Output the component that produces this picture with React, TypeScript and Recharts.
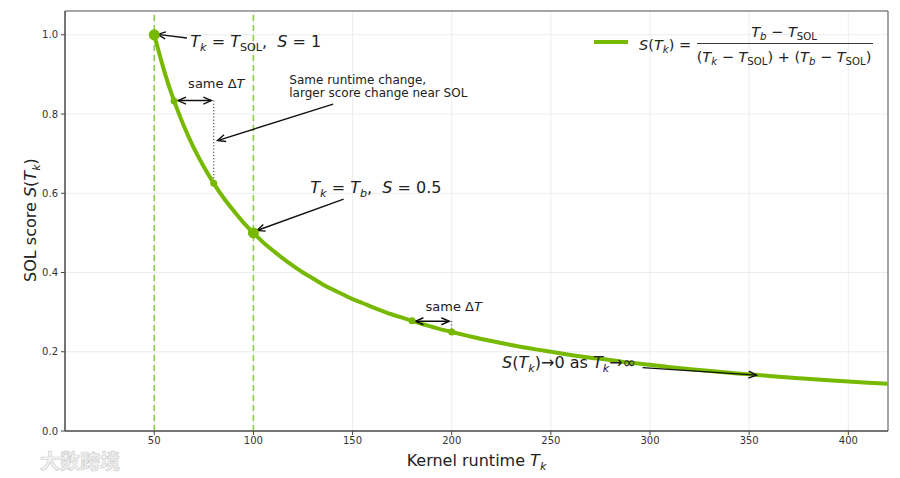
import React from 'react';
import {
  ComposedChart,
  Line,
  XAxis,
  YAxis,
  CartesianGrid,
  ReferenceLine,
  ReferenceDot,
  ReferenceArea,
  Legend,
} from 'recharts';

// runtimes T_k and SOL scores S(T_k)
const runtimes = [50, 55, 60, 65, 70, 75, 80, 85, 90, 95, 100, 105, 110, 115, 120, 125, 130, 135, 140, 145, 150, 155, 160, 165, 170, 175, 180, 185, 190, 195, 200, 210, 220, 230, 240, 250, 260, 270, 280, 290, 300, 310, 325, 340, 350, 360, 375, 390, 400, 410, 420];
const scores = [1.0, 0.909, 0.833, 0.769, 0.714, 0.667, 0.625, 0.588, 0.556, 0.526, 0.5, 0.476, 0.455, 0.435, 0.417, 0.4, 0.385, 0.37, 0.357, 0.345, 0.333, 0.323, 0.3125, 0.303, 0.294, 0.286, 0.278, 0.27, 0.263, 0.256, 0.25, 0.238, 0.227, 0.217, 0.208, 0.2, 0.192, 0.185, 0.179, 0.172, 0.167, 0.161, 0.154, 0.147, 0.143, 0.139, 0.133, 0.128, 0.125, 0.122, 0.119];

const xTicks = [50, 100, 150, 200, 250, 300, 350, 400];
const yTicks = [0, 0.2, 0.4, 0.6, 0.8, 1.0];

// T_SOL and T_b
const guideRuntimes = [50, 100];

const bigPointT = [50, 100];
const bigPointS = [1.0, 0.5];
const smallPointT = [60, 80, 180, 200];
const smallPointS = [0.833, 0.625, 0.278, 0.25];

const data = runtimes.map((t, i) => ({ t, s: scores[i] }));

const GREEN = '#76b900';
const FONT = '"DejaVu Sans", sans-serif';

type Piece = [string, number]; // flag 1 = italic, 2 = subscript

const MathText = ({ x, y, size, pieces, anchor = 'start', transform }: any) => {
  let shift = 0;
  return (
    <text
      x={x}
      y={y}
      fontSize={size}
      fontFamily={FONT}
      fill="#222"
      textAnchor={anchor}
      transform={transform}
      style={{ whiteSpace: 'pre' }}
    >
      {pieces.map(([s, f]: Piece, i: number) => {
        const target = f & 2 ? size * 0.24 : 0;
        const dy = target - shift;
        shift = target;
        return (
          <tspan
            key={i}
            dy={dy !== 0 ? dy : undefined}
            fontStyle={f & 1 ? 'italic' : 'normal'}
            fontSize={f & 2 ? size * 0.7 : size}
          >
            {s}
          </tspan>
        );
      })}
    </text>
  );
};

const arrowShape = (both: boolean, dotted = false) => (props: any) => {
  const { x1, y1, x2, y2 } = props;
  const a = Math.atan2(y2 - y1, x2 - x1);
  const hl = 8;
  const hw = 3.5;
  const head = (x: number, y: number, ang: number) => {
    const bx = x - hl * Math.cos(ang);
    const by = y - hl * Math.sin(ang);
    const px = -Math.sin(ang) * hw;
    const py = Math.cos(ang) * hw;
    return `M${bx + px},${by + py}L${x},${y}L${bx - px},${by - py}`;
  };
  if (dotted) {
    return <line x1={x1} y1={y1} x2={x2} y2={y2} stroke="#222" strokeWidth={1.1} strokeDasharray="1 2.2" />;
  }
  return (
    <g stroke="#111" strokeWidth={1.4} fill="none">
      <line x1={x1} y1={y1} x2={x2} y2={y2} />
      <path d={head(x2, y2, a)} />
      {both && <path d={head(x1, y1, a + Math.PI)} />}
    </g>
  );
};

const textShape = (pieces: Piece[], size: number, anchor = 'start') => (props: any) => (
  <MathText x={props.cx} y={props.cy} size={size} pieces={pieces} anchor={anchor} />
);

const LegendBox = () => (
  <svg width={300} height={52} style={{ display: 'block' }}>
    <line x1={6} y1={22} x2={40} y2={22} stroke={GREEN} strokeWidth={4} />
    <MathText x={51} y={30} size={14.5} pieces={[['S', 1], ['(', 0], ['T', 1], ['k', 3], [')', 0], [' = ', 0]]} />
    <MathText x={196} y={17} size={14.5} anchor="middle" pieces={[['T', 1], ['b', 3], [' − ', 0], ['T', 1], ['SOL', 2]]} />
    <line x1={109} y1={23.5} x2={285} y2={23.5} stroke="#222" strokeWidth={0.9} />
    <MathText
      x={196}
      y={42}
      size={14.5}
      anchor="middle"
      pieces={[['(', 0], ['T', 1], ['k', 3], [' − ', 0], ['T', 1], ['SOL', 2], [') + (', 0], ['T', 1], ['b', 3], [' − ', 0], ['T', 1], ['SOL', 2], [')', 0]]}
    />
  </svg>
);

export default function App() {
  return (
    <div style={{ position: 'absolute', left: 0, top: 0, width: 900, height: 478, background: '#fff' }}>
      <ComposedChart width={900} height={478} data={data} margin={{ top: 11, right: 12, left: 0, bottom: 0 }}>
        <CartesianGrid stroke="#e8e8e8" strokeWidth={0.8} />
        <XAxis
          dataKey="t"
          type="number"
          domain={[5, 420]}
          ticks={xTicks}
          allowDataOverflow
          height={47}
          tickSize={4}
          tick={{ fontSize: 10, fill: '#333', fontFamily: FONT }}
          tickLine={{ stroke: '#444' }}
          axisLine={{ stroke: '#444' }}
          label={{
            content: (p: any) => (
              <MathText
                x={p.viewBox.x + p.viewBox.width / 2}
                y={p.viewBox.y + 35}
                size={16}
                anchor="middle"
                pieces={[['Kernel runtime ', 0], ['T', 1], ['k', 3]]}
              />
            ),
          }}
        />
        <YAxis
          type="number"
          domain={[0, 1.06]}
          ticks={yTicks}
          allowDataOverflow
          width={65}
          tickSize={4}
          tickMargin={3}
          tickFormatter={(v: number) => v.toFixed(1)}
          tick={{ fontSize: 10, fill: '#333', fontFamily: FONT }}
          tickLine={{ stroke: '#444' }}
          axisLine={{ stroke: '#444' }}
          label={{
            content: () => (
              <MathText
                x={36}
                y={220}
                size={16}
                anchor="middle"
                transform="rotate(-90, 36, 220)"
                pieces={[['SOL score ', 0], ['S', 1], ['(', 0], ['T', 1], ['k', 3], [')', 0]]}
              />
            ),
          }}
        />
        <ReferenceArea x1={5} x2={420} y1={0} y2={1.06} fill="none" stroke="#555" strokeWidth={1} />
        {guideRuntimes.map((t) => (
          <ReferenceLine key={t} x={t} stroke="#8fcc4a" strokeWidth={1.6} strokeDasharray="6 4" />
        ))}
        <Line
          dataKey="s"
          type="natural"
          stroke={GREEN}
          strokeWidth={4}
          dot={false}
          activeDot={false}
          isAnimationActive={false}
          legendType="none"
        />
        {bigPointT.map((t, i) => (
          <ReferenceDot key={'b' + t} x={t} y={bigPointS[i]} r={5.5} fill={GREEN} stroke="none" />
        ))}
        {smallPointT.map((t, i) => (
          <ReferenceDot key={'s' + t} x={t} y={smallPointS[i]} r={3.5} fill={GREEN} stroke="none" />
        ))}

        {/* dotted drops showing the score change */}
        <ReferenceLine segment={[{ x: 80, y: 0.834 }, { x: 80, y: 0.625 }]} shape={arrowShape(false, true)} />
        <ReferenceLine segment={[{ x: 200, y: 0.277 }, { x: 200, y: 0.25 }]} shape={arrowShape(false, true)} />

        {/* arrows */}
        <ReferenceLine segment={[{ x: 66.5, y: 0.992 }, { x: 51.7, y: 1.001 }]} shape={arrowShape(false)} />
        <ReferenceLine segment={[{ x: 62, y: 0.834 }, { x: 78.8, y: 0.834 }]} shape={arrowShape(true)} />
        <ReferenceLine segment={[{ x: 140.2, y: 0.825 }, { x: 81.9, y: 0.733 }]} shape={arrowShape(false)} />
        <ReferenceLine segment={[{ x: 145.5, y: 0.585 }, { x: 101.8, y: 0.506 }]} shape={arrowShape(false)} />
        <ReferenceLine segment={[{ x: 181.7, y: 0.277 }, { x: 198.8, y: 0.277 }]} shape={arrowShape(true)} />
        <ReferenceLine segment={[{ x: 296.2, y: 0.16 }, { x: 353.7, y: 0.141 }]} shape={arrowShape(false)} />

        {/* annotation texts */}
        <ReferenceDot
          x={68.2}
          y={0.97}
          r={0}
          shape={textShape([['T', 1], ['k', 3], [' = ', 0], ['T', 1], ['SOL', 2], [',  ', 0], ['S', 1], [' = 1', 0]], 16)}
        />
        <ReferenceDot x={81.3} y={0.865} r={0} shape={textShape([['same Δ', 0], ['T', 1]], 13, 'middle')} />
        <ReferenceDot x={118.1} y={0.876} r={0} shape={textShape([['Same runtime change,', 0]], 12)} />
        <ReferenceDot x={118.1} y={0.842} r={0} shape={textShape([['larger score change near SOL', 0]], 12)} />
        <ReferenceDot
          x={128.7}
          y={0.6}
          r={0}
          shape={textShape([['T', 1], ['k', 3], [' = ', 0], ['T', 1], ['b', 3], [',  ', 0], ['S', 1], [' = 0.5', 0]], 16)}
        />
        <ReferenceDot x={201} y={0.304} r={0} shape={textShape([['same Δ', 0], ['T', 1]], 13, 'middle')} />
        <ReferenceDot
          x={225.4}
          y={0.158}
          r={0}
          shape={textShape([['S', 1], ['(', 0], ['T', 1], ['k', 3], [')→0 as ', 0], ['T', 1], ['k', 3], ['→∞', 0]], 16)}
        />

        <Legend
          layout="vertical"
          align="center"
          verticalAlign="middle"
          wrapperStyle={{ position: 'absolute', left: 588, top: 20, width: 300, height: 52 }}
          content={() => <LegendBox />}
        />
      </ComposedChart>
      <div
        style={{
          position: 'absolute',
          left: 40,
          top: 446,
          fontFamily: '"Noto Sans CJK SC", sans-serif',
          fontSize: 20,
          color: '#f4f4f4',
          WebkitTextStroke: '0.7px #cfcfcf',
          fontWeight: 700,
        }}
      >
        大数跨境
      </div>
    </div>
  );
}
